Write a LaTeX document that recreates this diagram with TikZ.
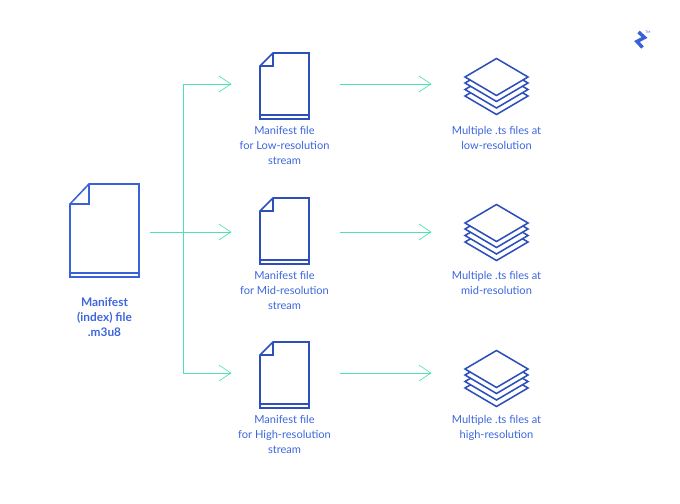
\documentclass[tikz,border=0pt]{standalone}
\usepackage{fontspec}
\setmainfont{Lato}
\usetikzlibrary{arrows.meta}
\definecolor{labelblue}{HTML}{3D66DC}
\definecolor{iconblue}{HTML}{2C4FB9}
\definecolor{mainblue}{HTML}{3A62D8}
\definecolor{flowgreen}{HTML}{4FE3AC}
\tikzset{
    flow/.style={draw=flowgreen, line width=0.7pt},
    flowarrow/.style={flow, -{Straight Barb[length=9pt, width=12pt, line width=0.5pt]}},
    iconline/.style={draw=iconblue, line width=1.15pt, line join=miter},
    sheet/.style={iconline, fill=white},
    caption/.style={text=labelblue, align=center, font=\fontsize{8.3pt}{11.25pt}\selectfont},
    smalldoc/.pic={
        \draw[iconline] (-11.5,-33) -- (24.5,-33) -- (24.5,33) -- (-24.5,33) -- (-24.5,-20) -- cycle;
        \draw[iconline] (-11.5,-33) -- (-11.5,-20) -- (-24.5,-20);
        \draw[iconline] (-24.5,29) -- (24.5,29);
    },
    stack/.pic={
        \foreach \y in {19,12.5,6,0} {
            \draw[sheet] (0,\y-18.5) -- (31.5,\y) -- (0,\y+18.5) -- (-31.5,\y) -- cycle;
        }
    },
}
\begin{document}
\begin{tikzpicture}[x=0.75pt, y=-0.75pt]
    \useasboundingbox (0,0) rectangle (680,503);
    % main manifest
    \draw[iconline, draw=mainblue] (89,184) -- (139,184) -- (139,277) -- (70,277) -- (70,204) -- cycle;
    \draw[iconline, draw=mainblue] (89,184) -- (89,204) -- (70,204);
    \draw[iconline, draw=mainblue] (70,273) -- (139,273);
    \node[caption, font=\fontsize{8.9pt}{11.25pt}\selectfont\bfseries] (mainlabel) at (104.5,317) {Manifest\\(index) file\\.m3u8};
    % junctions
    \coordinate (mainout) at (150,232);
    \coordinate (top) at (183,84);
    \coordinate (bottom) at (183,373);
    \coordinate (lowin) at (231.5,84);
    \coordinate (midin) at (231.5,232);
    \coordinate (highin) at (231.5,373);
    \draw[flow] (top) -- (bottom);
    \draw[flowarrow] (top) -- (lowin);
    \draw[flowarrow] (mainout) -- (midin);
    \draw[flowarrow] (bottom) -- (highin);
    % low
    \pic at (284.5,86) {smalldoc};
    \pic at (496.5,77) {stack};
    \node[caption] (lowdoc) at (284.5,145) {Manifest file\\for Low-resolution\\stream};
    \node[caption] (lowts) at (496.5,137.5) {Multiple .ts files at\\low-resolution};
    \coordinate (lowa) at (340,84);
    \coordinate (lowb) at (431.5,84);
    \draw[flowarrow] (lowa) -- (lowb);
    % mid
    \pic at (284.5,231) {smalldoc};
    \pic at (496.5,223) {stack};
    \node[caption] (middoc) at (284.5,290) {Manifest file\\for Mid-resolution\\stream};
    \node[caption] (midts) at (496.5,283) {Multiple .ts files at\\mid-resolution};
    \coordinate (mida) at (340,232);
    \coordinate (midb) at (431.5,232);
    \draw[flowarrow] (mida) -- (midb);
    % high
    \pic at (284.5,375) {smalldoc};
    \pic at (496.5,369) {stack};
    \node[caption] (highdoc) at (284.5,434) {Manifest file\\for High-resolution\\stream};
    \node[caption] (hights) at (496.5,427.5) {Multiple .ts files at\\high-resolution};
    \coordinate (higha) at (340,373);
    \coordinate (highb) at (431.5,373);
    \draw[flowarrow] (higha) -- (highb);
    % logo
    \draw[draw=mainblue, line width=2.6pt] (638.5,32) -- (644.5,37.5) -- (637,41.5) -- (642.5,47.5);
    \node[text=mainblue, font=\fontsize{2.5pt}{3pt}\selectfont, inner sep=0pt] (logotm) at (648,32) {TM};
\end{tikzpicture}
\end{document}
